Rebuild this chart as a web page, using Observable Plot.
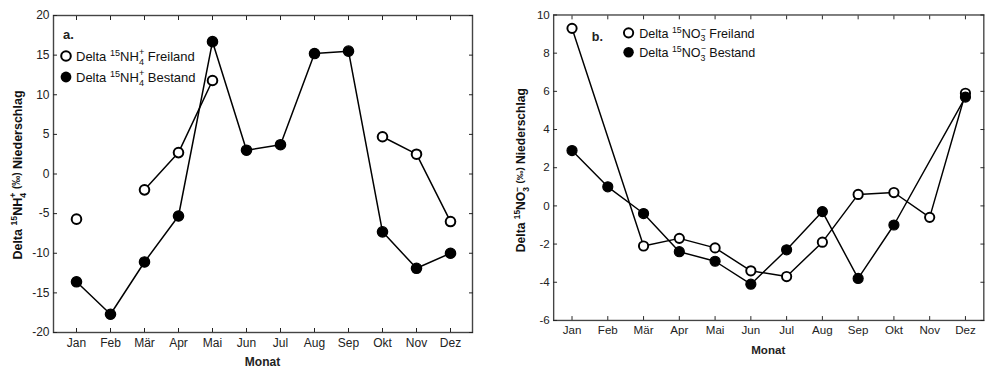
<!DOCTYPE html>
<html><head><meta charset="utf-8">
<script src="https://cdn.jsdelivr.net/npm/d3@7"></script>
<script src="https://cdn.jsdelivr.net/npm/@observablehq/plot@0.6"></script>
<style>
body{margin:0;overflow:hidden;background:#fff;font-family:"Liberation Sans",Arial,sans-serif}
#wrap{position:relative;width:993px;height:369px;overflow:hidden}
#a{position:absolute;left:0;top:0}
#b{position:absolute;left:500px;top:0}
</style></head><body><div id="wrap"><div id="a"></div><div id="b"></div></div>
<script>
const months = ["Jan","Feb","Mär","Apr","Mai","Jun","Jul","Aug","Sep","Okt","Nov","Dez"];
const nh4Freiland = [-5.7, null, -2.0, 2.7, 11.8, null, null, null, null, 4.7, 2.5, -6.0];
const nh4Bestand  = [-13.6, -17.7, -11.1, -5.3, 16.7, 3.0, 3.7, 15.2, 15.5, -7.3, -11.9, -10.0];
const no3Freiland = [9.3, null, -2.1, -1.7, -2.2, -3.4, -3.7, -1.9, 0.6, 0.7, -0.6, 5.9];
const no3Bestand  = [2.9, 1.0, -0.4, -2.4, -2.9, -4.1, -2.3, -0.3, -3.8, -1.0, null, 5.7];
const yTicksA = [-20, -15, -10, -5, 0, 5, 10, 15, 20];
const yTicksB = [-6, -4, -2, 0, 2, 4, 6, 8, 10];

const rows = arr => months.map((m, i) => ({month: m, v: arr[i]}));
const FONT = '"Liberation Sans", Arial, sans-serif';

function panel({fre, bes, yDomain, yTicks, width, ml, mr, mb, connectGaps}) {
  const fr = rows(fre), br = rows(bes);
  const frL = connectGaps ? fr.filter(d => d.v != null) : fr;
  const brL = connectGaps ? br.filter(d => d.v != null) : br;
  return Plot.plot({
    width, height: 369,
    marginLeft: ml, marginRight: mr, marginTop: 15, marginBottom: mb,
    style: {fontFamily: FONT, fontSize: "12px", color: "#222", background: "white"},
    x: {type: "point", domain: months, padding: 0.5, label: null},
    y: {domain: yDomain, label: null},
    marks: [
      Plot.frame({stroke: "#444", strokeWidth: 1.4}),
      Plot.axisX({anchor: "bottom", tickSize: -4, tickPadding: 10, label: null, fontSize: 12}),
      Plot.axisX({anchor: "top", tickSize: -4, tickFormat: () => "", label: null}),
      Plot.axisY({anchor: "left", ticks: yTicks, tickSize: -4, tickPadding: 8, label: null, fontSize: 12, tickFormat: d => String(d)}),
      Plot.axisY({anchor: "right", ticks: yTicks, tickSize: -4, tickFormat: () => "", label: null}),
      Plot.line(frL, {x: "month", y: "v", stroke: "black", strokeWidth: 1.5}),
      Plot.line(brL, {x: "month", y: "v", stroke: "black", strokeWidth: 1.5}),
      Plot.dot(fr.filter(d => d.v != null), {x: "month", y: "v", r: 4.8, fill: "white", stroke: "black", strokeWidth: 2}),
      Plot.dot(br.filter(d => d.v != null), {x: "month", y: "v", r: 5.2, fill: "black", stroke: "black", strokeWidth: 1.2})
    ]
  });
}

function rich(sel, x, y, parts, attrs = {}) {
  const t = sel.append("text").attr("x", x).attr("y", y)
    .attr("font-family", FONT).attr("fill", "#111").attr("text-anchor", "start");
  for (const k in attrs) t.attr(k, attrs[k]);
  for (const p of parts) {
    const s = t.append("tspan").text(p.t).attr("font-size", p.size || 13);
    if (p.dy) s.attr("dy", p.dy);
    if (p.dx) s.attr("dx", p.dx);
  }
  return t;
}

function ion(ion, sub, charge, size, name) {
  const sm = size * 0.7;
  return [
    {t: "15", size: sm, dy: -size * 0.4},
    {t: ion, size, dy: size * 0.4},
    {t: sub, size: sm, dy: size * 0.3},
    {t: charge, size: sm, dy: -size * 0.75, dx: -sm * 0.55},
    {t: name, size, dy: size * 0.45}
  ];
}

// Panel a
const pa = panel({fre: nh4Freiland, bes: nh4Bestand, yDomain: [-20, 20], yTicks: yTicksA, width: 500, ml: 53, mr: 28, mb: 37, connectGaps: false});
document.getElementById("a").appendChild(pa);
const sa = d3.select(pa);
sa.append("text").attr("x", 63).attr("y", 39).attr("text-anchor", "start").attr("font-family", FONT).attr("font-weight", "bold").attr("font-size", 13).text("a.");
sa.append("circle").attr("cx", 66).attr("cy", 56).attr("r", 4.8).attr("fill", "white").attr("stroke", "black").attr("stroke-width", 2);
sa.append("circle").attr("cx", 66).attr("cy", 77).attr("r", 5.4).attr("fill", "black");
rich(sa, 76, 61, [{t: "Delta ", size: 13}, ...ion("NH", "4", "+", 13, " Freiland")]);
rich(sa, 76, 82, [{t: "Delta ", size: 13}, ...ion("NH", "4", "+", 13, " Bestand")]);
sa.append("text").attr("x", (53 + 472) / 2).attr("y", 366).attr("text-anchor", "middle")
  .attr("font-family", FONT).attr("font-weight", "bold").attr("font-size", 12).text("Monat");
rich(sa, 0, 0, [{t: "Delta ", size: 12.5}, ...ion("NH", "4", "+", 12.5, " "), {t: "(‰)", size: 10, dy: -2}, {t: " Niederschlag", size: 12.5, dy: 2}],
  {"font-weight": "bold", "text-anchor": "middle", transform: "translate(22,175) rotate(-90)"});

// Panel b
const pb = panel({fre: no3Freiland, bes: no3Bestand, yDomain: [-6, 10], yTicks: yTicksB, width: 510, ml: 55, mr: 10, mb: 38, connectGaps: true});
document.getElementById("b").appendChild(pb);
const sb = d3.select(pb);
sb.append("text").attr("x", 95).attr("y", 42).attr("text-anchor", "start").attr("font-family", FONT).attr("font-weight", "bold").attr("font-size", 13).text("b.");
sb.append("circle").attr("cx", 133).attr("cy", 34).attr("r", 4.8).attr("fill", "white").attr("stroke", "black").attr("stroke-width", 2);
sb.append("circle").attr("cx", 133).attr("cy", 54).attr("r", 5.4).attr("fill", "black");
rich(sb, 144, 39, [{t: "Delta ", size: 13}, ...ion("NO", "3", "−", 13, " Freiland")]);
rich(sb, 144, 59, [{t: "Delta ", size: 13}, ...ion("NO", "3", "−", 13, " Bestand")]);
sb.append("text").attr("x", (55 + 500) / 2).attr("y", 366).attr("text-anchor", "middle")
  .attr("font-family", FONT).attr("font-weight", "bold").attr("font-size", 12).text("Monat");
rich(sb, 0, 0, [{t: "Delta ", size: 12.5}, ...ion("NO", "3", "−", 12.5, " "), {t: "(‰)", size: 10, dy: -2}, {t: " Niederschlag", size: 12.5, dy: 2}],
  {"font-weight": "bold", "text-anchor": "middle", transform: "translate(26,176) rotate(-90)"});
</script></body></html>
